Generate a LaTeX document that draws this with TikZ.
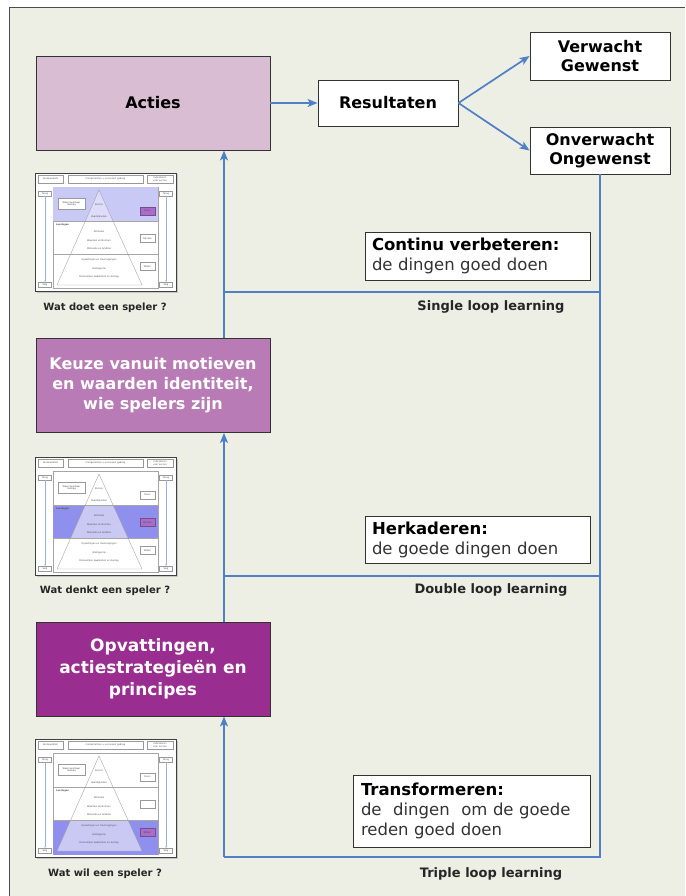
\documentclass[tikz,border=0pt]{standalone}
\usepackage{fontspec}
\setmainfont{DejaVu Sans}
\usetikzlibrary{arrows.meta}

\definecolor{panel}{HTML}{EDEFE5}
\definecolor{actfill}{HTML}{D9BDD3}
\definecolor{keuzefill}{HTML}{B87BB5}
\definecolor{opvfill}{HTML}{992D90}
\definecolor{loopblue}{HTML}{4F80C6}
\definecolor{bandlight}{HTML}{C9C9F6}
\definecolor{banddark}{HTML}{8F8FEE}
\definecolor{pyrlight}{HTML}{DDDDF9}
\definecolor{pyrmid}{HTML}{C9C9F4}
\definecolor{selfill}{HTML}{A86DC8}
\definecolor{txtgray}{HTML}{333333}

\tikzset{
  box/.style={draw=black!80, line width=0.9pt, fill=white, inner sep=0pt,
    align=center, font=\fontsize{16}{19}\selectfont\bfseries},
  levelbox/.style={box, minimum width=234, minimum height=94},
  notebox/.style={draw=black!80, line width=0.9pt, fill=white, inner ysep=0pt,
    align=left, font=\fontsize{16.5}{20}\selectfont, text=txtgray},
  flow/.style={draw=loopblue, line width=1.7pt, -{Stealth[length=10pt,width=8pt,inset=2.5pt]}},
  loopline/.style={draw=loopblue, line width=1.7pt},
  looplabel/.style={font=\fontsize{13}{15}\selectfont\bfseries, text=black!85},
  caption/.style={font=\fontsize{10}{12}\selectfont\bfseries, text=black!85},
  % miniature overview
  tiny/.style={font=\fontsize{2.3}{2.7}\selectfont, text=black!70, inner sep=0pt, align=center},
  hdr/.style={tiny, draw=gray!80, line width=0.3pt, fill=white},
  sidebox/.style={tiny, draw=gray!80, line width=0.3pt, fill=white, minimum width=15, minimum height=8},
  selbox/.style={sidebox, fill=selfill, draw=selfill!70!black},
  navbox/.style={tiny, draw=gray!80, line width=0.3pt, fill=white, minimum width=13, minimum height=5},
  sidebox1/.style={sidebox}, sidebox2/.style={sidebox}, sidebox3/.style={sidebox},
}

% Miniature of the competence pyramid; #1 name prefix, #2/#3 top-left, #4 highlighted layer
\newcommand\spelerthumb[4]{%
\begin{scope}[shift={(#2,#3)}]
  \tikzset{sidebox#4/.style={selbox}}
  \fill[gray!45] (1.5,1.5) rectangle (143,119.5);
  \draw[black!75, line width=0.8pt, fill=white] (0,0) rectangle (141,118);
  \node[hdr, minimum width=25, minimum height=8] (#1-veld) at (15.5,6) {Kernkwaliteit};
  \node[hdr, minimum width=75, minimum height=8] (#1-comp) at (70.5,6) {Competenties = succesvol gedrag};
  \node[hdr, minimum width=26, minimum height=8] (#1-ind) at (125,6) {Indicatoren\\voor succes};
  \draw[gray!70, line width=0.3pt, fill=white] (18,14) rectangle (123,115.5);
  \ifcase#4\or
    \fill[bandlight] (18,14) rectangle (123,48);
    \begin{scope}\clip (18,14) rectangle (123,48);
      \fill[pyrlight] (64,17) -- (107,112) -- (22,112) -- cycle;\end{scope}
  \or
    \fill[banddark] (18,48) rectangle (123,81);
    \begin{scope}\clip (18,48) rectangle (123,81);
      \fill[pyrmid] (64,17) -- (107,112) -- (22,112) -- cycle;\end{scope}
  \or
    \fill[banddark] (18,81) rectangle (123,115.5);
    \begin{scope}\clip (18,81) rectangle (123,115.5);
      \fill[pyrmid] (64,17) -- (107,112) -- (22,112) -- cycle;\end{scope}
  \fi
  \draw[gray!70, line width=0.3pt] (18,48) -- (123,48) (18,81) -- (123,81);
  \draw[gray!75, line width=0.35pt] (64,17) -- (107,112) -- (22,112) -- cycle;
  \node[tiny, font=\fontsize{2.3}{2.7}\selectfont\bfseries, anchor=west] (#1-lagen) at (21,51.5) {Leerlagen};
  \node[hdr, minimum width=27, minimum height=11] (#1-gedrag) at (36.5,31) {Waarneembaar\\Gedrag};
  \node[tiny] (#1-l1) at (64,32) {Kennis};
  \node[tiny] (#1-l2) at (64,44) {Vaardigheden};
  \node[tiny] (#1-l3) at (64,59) {Attitudes};
  \node[tiny] (#1-l4) at (64,68) {Waarden en Normen};
  \node[tiny] (#1-l5) at (64,76) {Motivatie en Ambitie};
  \node[tiny] (#1-l6) at (64,87) {Opvattingen en Overtuigingen};
  \node[tiny] (#1-l7) at (64,96) {Intelligentie};
  \node[tiny] (#1-l8) at (64,104) {Persoonlijke kwaliteiten en Aanleg};
  \node[sidebox1] (#1-doen) at (112.5,38) {Doen};
  \node[sidebox2] (#1-denken) at (112.5,65.5) {\ifnum#4=3 \else Denken\fi};
  \node[sidebox3] (#1-willen) at (112.5,93.5) {Willen};
  \node[navbox] (#1-lt) at (10,20.5) {Terug};
  \node[navbox] (#1-lb) at (10,111.5) {Volg};
  \node[navbox] (#1-rt) at (131,20.5) {Terug};
  \node[navbox] (#1-rb) at (131,111.5) {Volg};
  \draw[loopblue!60, line width=0.3pt, -{Stealth[length=1.5pt,width=1.5pt]}] (#1-lt) -- (#1-lb);
  \draw[loopblue!60, line width=0.3pt, -{Stealth[length=1.5pt,width=1.5pt]}] (#1-rt) -- (#1-rb);
\end{scope}}

\begin{document}
\begin{tikzpicture}[x=1pt,y=-1pt]
\useasboundingbox (0,0) rectangle (685,896);
\fill[white] (0,0) rectangle (685,896);
\fill[panel] (9,8) rectangle (685,896);
\draw[black!70, line width=1pt] (9,896) -- (9,8) -- (685,8);

% learning levels
\node[levelbox, fill=actfill] (acties) at (153,103) {Acties};
\node[levelbox, fill=keuzefill, text=white, font=\fontsize{16}{20}\selectfont\bfseries]
  (keuze) at (153,385.5) {Keuze vanuit motieven\\en waarden identiteit,\\wie spelers zijn};
\node[levelbox, fill=opvfill, text=white, font=\fontsize{17}{22}\selectfont\bfseries]
  (opv) at (153,669) {Opvattingen,\\actiestrategieën en\\principes};

% results
\node[box, minimum width=140, minimum height=46] (res) at (388,103) {Resultaten};
\node[box, minimum width=140, minimum height=48] (verw) at (600,56) {Verwacht\\Gewenst};
\node[box, minimum width=140, minimum height=47] (onverw) at (600,150.5) {Onverwacht\\Ongewenst};

% loop descriptions
\node[notebox, minimum width=225, minimum height=48, inner xsep=7pt, text width=211]
  (continu) at (477.5,256) {\textbf{\color{black}Continu verbeteren:}\\de dingen goed doen};
\node[notebox, minimum width=225, minimum height=47, inner xsep=7pt, text width=211]
  (herkad) at (477.5,539.5) {\textbf{\color{black}Herkaderen:}\\de goede dingen doen};
\node[notebox, minimum width=237, minimum height=72, inner xsep=8pt, text width=221]
  (transf) at (471.5,811) {\textbf{\color{black}Transformeren:}\\de\hspace{0.7em}dingen\hspace{0.7em}om de goede\\reden goed doen};

\node[looplabel] (single) at (491,307) {Single loop learning};
\node[looplabel] (double) at (491,590) {Double loop learning};
\node[looplabel] (triple) at (491,874) {Triple loop learning};

% overview miniatures
\spelerthumb{ta}{35}{173}{1}
\spelerthumb{tb}{35}{457}{2}
\spelerthumb{tc}{35}{739}{3}
\node[caption] (capa) at (105,308) {Wat doet een speler ?};
\node[caption] (capb) at (105,591) {Wat denkt een speler ?};
\node[caption] (capc) at (105,874) {Wat wil een speler ?};

% connectors
\coordinate (sgr) at (600,292);
\coordinate (sgl) at (224,292);
\coordinate (dbr) at (600,576);
\coordinate (dbl) at (224,576);
\coordinate (trr) at (600,857);
\coordinate (trl) at (224,857);

\draw[flow] (acties.east) -- (res.west);
\draw[flow] (res.east) -- (verw.west);
\draw[flow] (res.east) -- (onverw.west);

\draw[loopline] (onverw.south) -- (trr) -- (trl);
\draw[flow] (trl) -- (trl |- opv.south);
\draw[loopline] (sgr) -- (sgl);
\draw[flow] (sgl |- keuze.north) -- (sgl |- acties.south);
\draw[loopline] (dbr) -- (dbl);
\draw[flow] (dbl |- opv.north) -- (dbl |- keuze.south);
\end{tikzpicture}
\end{document}
